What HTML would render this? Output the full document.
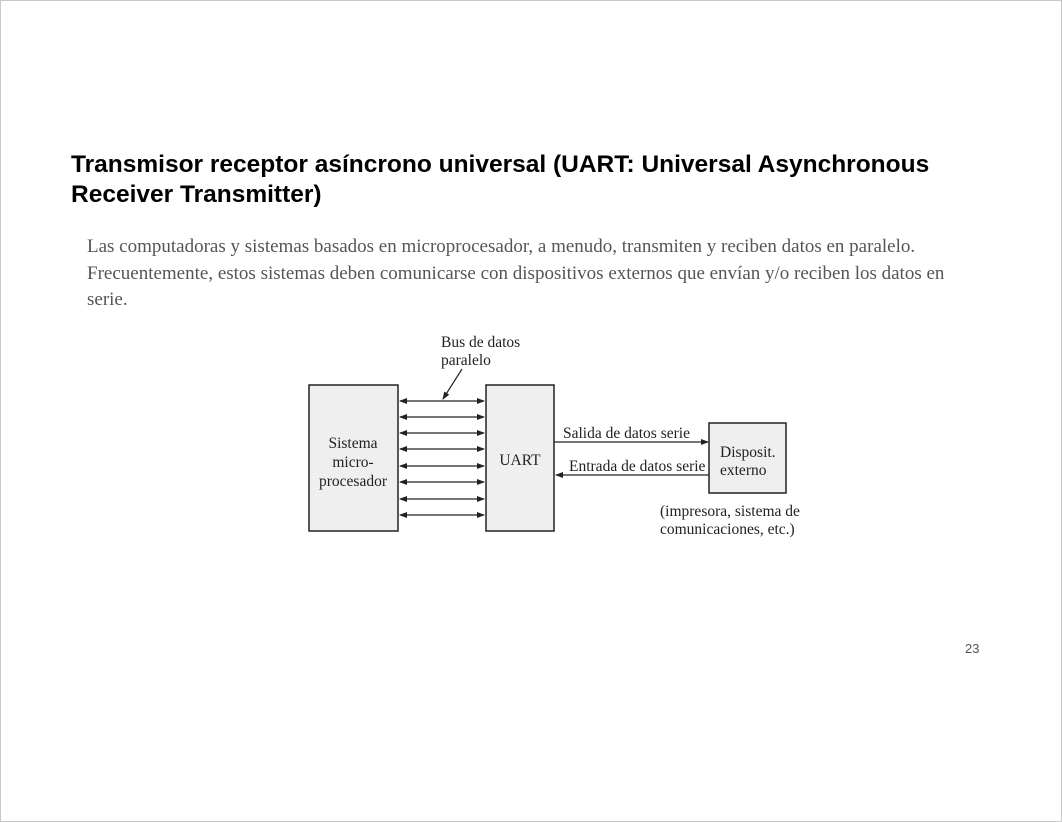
<!DOCTYPE html>
<html><head><meta charset="utf-8"><style>
html,body{margin:0;padding:0;background:#fff;}
.page{position:relative;width:1060px;height:820px;border:1px solid #c8c8c8;overflow:hidden;}
.t{position:absolute;left:70px;top:149px;font:bold 24.5px "Liberation Sans",sans-serif;line-height:30px;color:#000;white-space:nowrap;}
.p{position:absolute;left:86px;top:233px;font:19px "Liberation Serif",serif;line-height:26.5px;color:#555;white-space:nowrap;}
.n{position:absolute;left:964px;top:640px;font:13px "Liberation Sans",sans-serif;color:#555;}
svg{position:absolute;left:0;top:0;}
svg text{font-family:"Liberation Serif",serif;font-size:15.5px;fill:#222;}
</style></head><body><div class="page">
<div class="t">Transmisor receptor asíncrono universal (UART: Universal Asynchronous<br>Receiver Transmitter)</div>
<div class="p">Las computadoras y sistemas basados en microprocesador, a menudo, transmiten y reciben datos en paralelo.<br>Frecuentemente, estos sistemas deben comunicarse con dispositivos externos que envían y/o reciben los datos en<br>serie.</div>
<div class="n">23</div>
<svg width="1062" height="822">
<defs><marker id="a" markerWidth="8" markerHeight="6" refX="7" refY="3" orient="auto-start-reverse" markerUnits="userSpaceOnUse"><path d="M0,0L8,3L0,6z" fill="#222"/></marker></defs>
<g stroke="#222" stroke-width="1.5" fill="#efefef">
<rect x="308" y="384" width="89" height="146"/>
<rect x="485" y="384" width="68" height="146"/>
<rect x="708" y="422" width="77" height="70"/>
</g>
<g stroke="#222" stroke-width="1.2">
<line x1="399" y1="400" x2="483" y2="400" marker-start="url(#a)" marker-end="url(#a)"/>
<line x1="399" y1="416" x2="483" y2="416" marker-start="url(#a)" marker-end="url(#a)"/>
<line x1="399" y1="432" x2="483" y2="432" marker-start="url(#a)" marker-end="url(#a)"/>
<line x1="399" y1="448" x2="483" y2="448" marker-start="url(#a)" marker-end="url(#a)"/>
<line x1="399" y1="465" x2="483" y2="465" marker-start="url(#a)" marker-end="url(#a)"/>
<line x1="399" y1="481" x2="483" y2="481" marker-start="url(#a)" marker-end="url(#a)"/>
<line x1="399" y1="498" x2="483" y2="498" marker-start="url(#a)" marker-end="url(#a)"/>
<line x1="399" y1="514" x2="483" y2="514" marker-start="url(#a)" marker-end="url(#a)"/>
<line x1="553" y1="441" x2="707" y2="441" marker-end="url(#a)"/>
<line x1="708" y1="474" x2="555" y2="474" marker-end="url(#a)"/>
<line x1="461" y1="368" x2="442" y2="398" marker-end="url(#a)"/>
</g>
<text x="440" y="346">Bus de datos</text>
<text x="440" y="364">paralelo</text>
<text x="352" y="447" text-anchor="middle">Sistema</text>
<text x="352" y="466" text-anchor="middle">micro-</text>
<text x="352" y="485" text-anchor="middle">procesador</text>
<text x="519" y="464" text-anchor="middle">UART</text>
<text x="562" y="437">Salida de datos serie</text>
<text x="568" y="470">Entrada de datos serie</text>
<text x="719" y="456">Disposit.</text>
<text x="719" y="474">externo</text>
<text x="659" y="515">(impresora, sistema de</text>
<text x="659" y="533">comunicaciones, etc.)</text>
</svg>
</div></body></html>
